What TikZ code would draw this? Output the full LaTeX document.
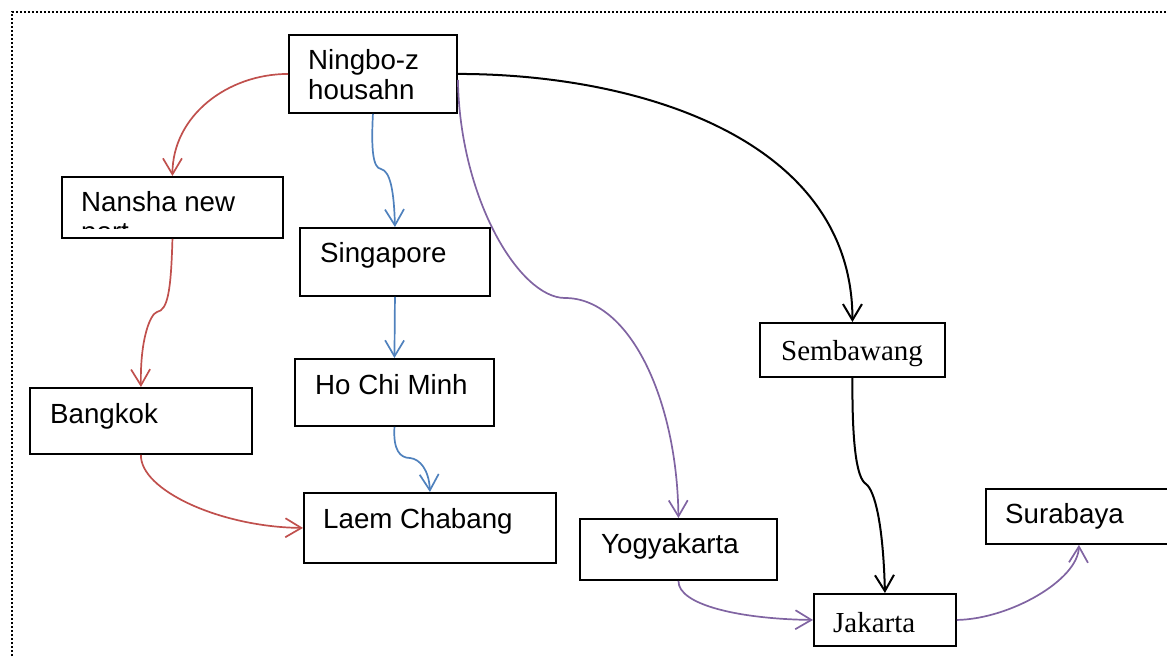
\documentclass[tikz,border=0pt]{standalone}
\usepackage{fontspec}
\setmainfont{Liberation Sans}
\newfontfamily\serifport{Liberation Serif}
\usetikzlibrary{arrows.meta}
\definecolor{cred}{HTML}{C0504D}
\definecolor{cblue}{HTML}{4F81BD}
\definecolor{cpurple}{HTML}{8064A2}
\begin{document}
\begin{tikzpicture}[x=1pt,y=-1pt,
  box/.style={draw=black, line width=1.9pt, anchor=north west, inner sep=0pt},
  lbl/.style={anchor=base west, inner sep=0pt, font=\fontsize{27.7}{33}\selectfont},
  slbl/.style={anchor=base west, inner sep=0pt, font=\serifport\fontsize{29}{35}\selectfont},
  conn/.style={line width=1.7pt, -{Straight Barb[length=16pt,width=19pt]}},
  frame/.style={line width=2.2pt, dash pattern=on 2pt off 2pt}
  ]
\useasboundingbox (0,0) rectangle (1167,658);
\clip (0,0) rectangle (1167,658);
\draw[frame] (12,700) -- (12,12) -- (1200,12);

% boxes
\node[box, minimum width=168pt, minimum height=78pt] (ningbo) at (288,34) {};
\node[box, minimum width=221pt, minimum height=61pt] (nansha) at (61,176) {};
\node[box, minimum width=190pt, minimum height=68pt] (sing) at (299,227) {};
\node[box, minimum width=199pt, minimum height=67pt] (hcm) at (294,358) {};
\node[box, minimum width=222pt, minimum height=66pt] (bangkok) at (29,387) {};
\node[box, minimum width=252pt, minimum height=70pt] (laem) at (303,492) {};
\node[box, minimum width=185pt, minimum height=54pt] (sem) at (759,322) {};
\node[box, minimum width=197pt, minimum height=61pt] (yogy) at (579,518) {};
\node[box, minimum width=142pt, minimum height=52pt] (jak) at (813,593) {};
\node[box, minimum width=186pt, minimum height=55pt] (sura) at (985,488) {};

% texts
\node[lbl] (ningbo-t1) at (308,70) {Ningbo-z};
\node[lbl] (ningbo-t2) at (308,100) {housahn};
\node[lbl] (nansha-t) at (81,211) {Nansha new};
\begin{scope}
\clip (62,177) rectangle (281,228.3);
\node[lbl] (nansha-t2) at (81,241) {port};
\end{scope}
\node[lbl] (sing-t) at (320,262) {Singapore};
\node[lbl] (hcm-t) at (315,394) {Ho Chi Minh};
\node[lbl] (bangkok-t) at (50,423) {Bangkok};
\node[lbl] (laem-t) at (323,528) {Laem Chabang};
\node[slbl] (sem-t) at (781,360) {Sembawang};
\node[lbl] (yogy-t) at (601,553) {Yogyakarta};
\node[slbl] (jak-t) at (833,632) {Jakarta};
\node[lbl] (sura-t) at (1005,523) {Surabaya};

% red route
\draw[conn, cred] (ningbo.west) to[out=180,in=90] (nansha.north);
\draw[conn, cred] (nansha.south) .. controls (171,290) and (168,310) .. (157,312)
  .. controls (150,314) and (140,340) .. (bangkok.north);
\draw[conn, cred] (bangkok.south) .. controls (140,490) and (220,527) .. (laem.west);

% blue route
\draw[conn, cblue] (ningbo.south) .. controls (371,150) and (373,168) .. (381,169)
  .. controls (390,171) and (394,190) .. (sing.north);
\draw[conn, cblue] (sing.south) -- (hcm.north);
\draw[conn, cblue] (hcm.south) .. controls (393,450) and (400,458) .. (410,458)
  .. controls (420,459) and (429,470) .. (laem.north);

% purple route
\draw[conn, cpurple] ([yshift=-6pt]ningbo.east) .. controls (460,200) and (520,298) .. (565,298)
  .. controls (630,298) and (677,400) .. (yogy.north);
\draw[conn, cpurple] (yogy.south) .. controls (678,605) and (740,619) .. (jak.west);
\draw[conn, cpurple] (jak.east) .. controls (1010,619) and (1078,580) .. (sura.south);

% black route
\draw[conn, black, line width=2pt] (ningbo.east) to[out=0,in=90] (sem.north);
\draw[conn, black, line width=2pt] (sem.south) .. controls (852,440) and (856,478) .. (866,484)
  .. controls (874,490) and (883,520) .. (jak.north);
\end{tikzpicture}
\end{document}
